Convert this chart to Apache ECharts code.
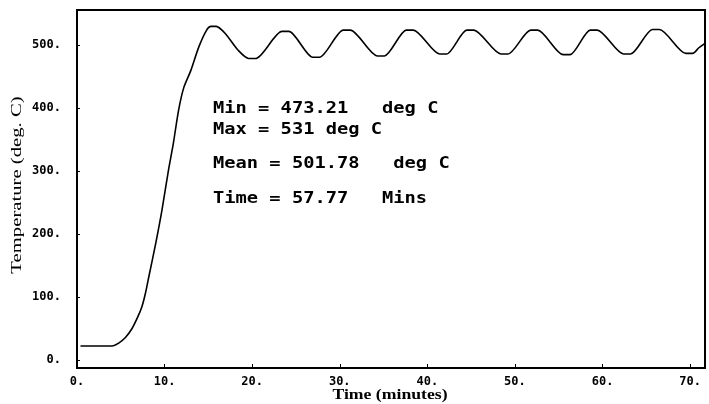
<!DOCTYPE html>
<html>
<head>
<meta charset="utf-8">
<script src="https://cdn.jsdelivr.net/npm/echarts@6/dist/echarts.min.js"></script>
<style>
  html, body { margin: 0; padding: 0; background: #fff; }
  #chart { width: 709px; height: 404px; }
</style>
</head>
<body>
<div id="chart"></div>
<script>
  // time in minutes, furnace temperature in deg C
  var timeMin = [0.4, 2, 4.0, 4.8, 5.5, 6.25, 6.9, 7.4, 7.8, 8.2, 9.0, 9.7, 10.45, 11.0, 11.6, 12.2, 13.0, 13.9, 14.8, 15.3, 15.9,
    16.9, 18.4, 19.6, 20.4, 23.4, 24.2, 26.9, 27.7, 30.4, 31.2, 34.3, 35.1, 37.6, 38.4, 41.4, 42.2,
    44.5, 45.3, 48.4, 49.2, 51.8, 52.6, 55.5, 56.3, 58.6, 59.4, 62.4, 63.2, 65.7, 66.5, 69.5, 70.3, 71.0, 71.7];
  var tempC = [22, 22, 22, 27, 35, 49, 67, 84, 105, 132, 186, 238, 302, 344, 397, 433, 460, 497, 524, 530, 530,
    519, 492, 479, 479, 522, 522, 481, 481, 524, 524, 483, 483, 524, 524, 486, 486,
    524, 524, 486, 486, 524, 524, 485, 485, 524, 524, 486, 486, 525, 525, 487, 487, 496, 503];
  var xTicks = [0, 10, 20, 30, 40, 50, 60, 70];
  var yTicks = [0, 100, 200, 300, 400, 500];
  var notes = ['Min = 473.21   deg C', 'Max = 531 deg C', 'Mean = 501.78   deg C', 'Time = 57.77   Mins'];

  var points = [];
  for (var i = 0; i < timeMin.length; i++) {
    points.push([timeMin[i], tempC[i]]);
  }

  var monoFont = '"DejaVu Sans Mono", monospace';
  var serifFont = '"Liberation Serif", "Times New Roman", serif';
  var noteTop = [101, 122, 156, 191];
  var graphics = [];
  for (var j = 0; j < notes.length; j++) {
    graphics.push({
      type: 'text',
      x: 213,
      y: noteTop[j],
      scaleX: 1.17,
      style: { text: notes[j], font: 'bold 16px ' + monoFont, fill: '#000', textVerticalAlign: 'top' }
    });
  }
  // axis titles (the original lettering is wider than the installed fonts)
  graphics.push({
    type: 'text', x: 390, y: 395, scaleX: 1.18,
    style: { text: 'Time (minutes)', font: 'bold 15px ' + serifFont, fill: '#000', textAlign: 'center', textVerticalAlign: 'middle' }
  });
  graphics.push({
    type: 'text', x: 17, y: 185, rotation: Math.PI / 2, scaleX: 1.38,
    style: { text: 'Temperature (deg. C)', font: '15px ' + serifFont, fill: '#000', textAlign: 'center', textVerticalAlign: 'middle' }
  });

  var myChart = echarts.init(document.getElementById('chart'));
  myChart.setOption({
    backgroundColor: '#fff',
    animation: false,
    grid: {
      left: 77, right: 4, top: 10, bottom: 36,
      show: true, borderColor: '#000', borderWidth: 2, backgroundColor: 'transparent'
    },
    xAxis: {
      type: 'value',
      min: 0,
      max: 71.7,
      axisLine: { show: true, onZero: false, lineStyle: { color: '#000', width: 2 } },
      axisTick: { show: true, inside: true, length: 4, customValues: xTicks, lineStyle: { color: '#000' } },
      axisLabel: {
        customValues: xTicks, margin: 8, color: '#000',
        fontFamily: monoFont, fontWeight: 'bold', fontSize: 12,
        formatter: function (v) { return v + '.'; }
      },
      splitLine: { show: false }
    },
    yAxis: {
      type: 'value',
      min: -13,
      max: 556,
      axisLine: { show: true, onZero: false, lineStyle: { color: '#000', width: 2 } },
      axisTick: { show: true, inside: true, length: 3, customValues: yTicks, lineStyle: { color: '#000' } },
      axisLabel: {
        customValues: yTicks, margin: 16, color: '#000',
        fontFamily: monoFont, fontWeight: 'bold', fontSize: 12,
        formatter: function (v) { return v + '.'; }
      },
      splitLine: { show: false }
    },
    series: [{
      type: 'line',
      data: points,
      smooth: 0.25,
      showSymbol: false,
      lineStyle: { color: '#000', width: 1.6 }
    }],
    graphic: graphics
  });
</script>
</body>
</html>
